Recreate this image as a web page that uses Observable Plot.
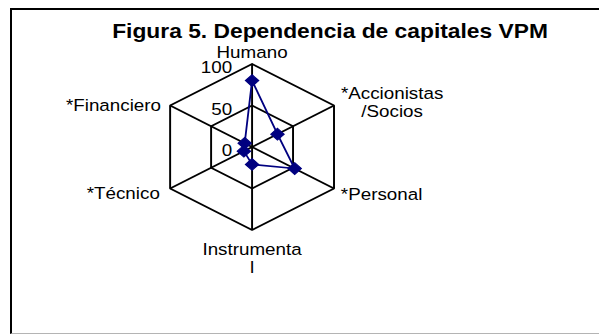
<!DOCTYPE html>
<html><head><meta charset="utf-8">
<script src="https://cdn.jsdelivr.net/npm/d3@7"></script>
<script src="https://cdn.jsdelivr.net/npm/@observablehq/plot@0.6"></script>
<style>
html,body{margin:0;padding:0;background:#fff;overflow:hidden;width:599px;height:335px}
#frame{position:absolute;left:10px;top:8px;width:600px;height:326px;box-sizing:border-box;border-top:2px solid #000;border-left:2px solid #000;border-bottom:1px solid #b4b4b4}
#chart{position:absolute;left:0;top:0;transform-origin:0 0}
</style></head><body>
<div id="frame"></div>
<div id="chart"></div>
<script>
// ---- data ----
const title = "Figura 5. Dependencia de capitales VPM";
const categories = ["Humano", "*Accionistas\n/Socios", "*Personal", "Instrumenta\nl", "*Técnico", "*Financiero"];
const values = [80, 31, 52, 21, 10, 9];
const tickValues = [0, 50, 100];
const ringValues = [50, 100];
const axisMax = 100;

// ---- layout (styles, not data) ----
const S = 1.14;              // horizontal stretch of the original picture
const W0 = 599 / S;
const H = 335;
const cx = 251.5 / S, cy = 146.5, R = 83;
const font = "'Liberation Sans', Arial, sans-serif";
const labelLayout = [
  {anchor: "middle", dx: 0, dy: -11.5},
  {anchor: "middle", dx: 51, dy: -3},
  {anchor: "start", dx: 6, dy: 6},
  {anchor: "middle", dx: 0, dy: 28},
  {anchor: "end", dx: -9, dy: 5},
  {anchor: "end", dx: -8, dy: 0}
];

const n = categories.length;
const ang = i => i * 2 * Math.PI / n;
const px = (v, i) => v * Math.sin(ang(i));
const py = (v, i) => v * Math.cos(ang(i));

const rings = ringValues.flatMap(r => d3.range(n + 1).map(k => ({ring: r, x: px(r, k % n), y: py(r, k % n)})));
const spokes = categories.map((c, i) => ({x1: 0, y1: 0, x2: px(axisMax, i), y2: py(axisMax, i)}));
const series = values.map((v, i) => ({cat: categories[i], v, x: px(v, i), y: py(v, i)}));
const seriesClosed = [...series, series[0]];
const labelRows = categories.map((c, i) => ({text: c, x: px(axisMax, i), y: py(axisMax, i)}));
const tickRows = tickValues.map(t => ({text: String(t), x: 0, y: t}));

const chart = Plot.plot({
  width: W0,
  height: H,
  margin: 0,
  style: {fontFamily: font, fontSize: "16.5px", background: "transparent", color: "#000", overflow: "visible"},
  x: {domain: [-axisMax, axisMax], range: [cx - R, cx + R], axis: null},
  y: {domain: [-axisMax, axisMax], range: [cy + R, cy - R], axis: null},
  marks: [
    Plot.line(rings, {x: "x", y: "y", z: "ring", stroke: "#000", strokeWidth: 1.7, strokeLinejoin: "miter"}),
    Plot.link(spokes, {x1: "x1", y1: "y1", x2: "x2", y2: "y2", stroke: "#000", strokeWidth: 1.7}),
    Plot.line(seriesClosed, {x: "x", y: "y", stroke: "#000080", strokeWidth: 1.6}),
    Plot.dot(series, {x: "x", y: "y", symbol: "diamond2", r: 5.3, fill: "#000080", stroke: "#000080", strokeWidth: 1}),
    Plot.text(tickRows, {x: "x", y: "y", text: "text", textAnchor: "end", dx: -17.4, dy: 4, fontSize: 16.5, fill: "#000"}),
    ...labelRows.map((row, i) => Plot.text([row], {
      x: "x", y: "y", text: "text", textAnchor: labelLayout[i].anchor,
      dx: labelLayout[i].dx, dy: labelLayout[i].dy, lineAnchor: "middle", lineHeight: 1.08, fontSize: 16.5, fill: "#000"
    })),
    Plot.text([title], {frameAnchor: "top-left", dx: 289, dy: 38, text: d => d, textAnchor: "middle", lineAnchor: "bottom", fontSize: 20, fontWeight: "bold", fill: "#000"})
  ]
});
const host = document.getElementById("chart");
host.style.transform = `scaleX(${S})`;
host.appendChild(chart);
</script>
</body></html>
